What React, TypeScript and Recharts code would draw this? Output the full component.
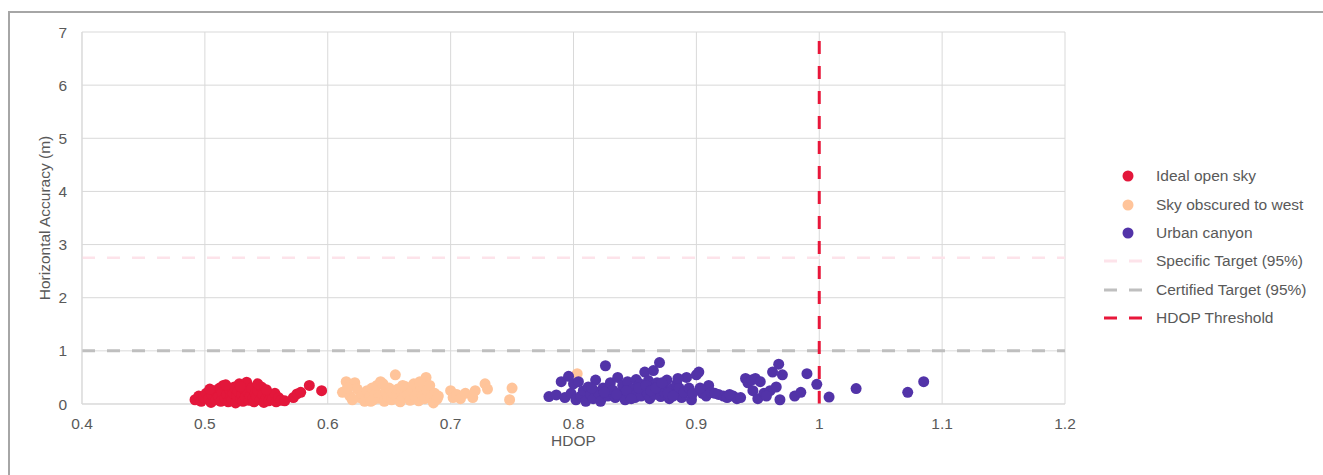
import React from 'react';
import {
  ScatterChart,
  Scatter,
  XAxis,
  YAxis,
  ZAxis,
  CartesianGrid,
  ReferenceLine,
} from 'recharts';

// [hdop, horizontal accuracy (m)]
const idealOpenSky: [number, number][] = [
  [0.492, 0.08], [0.495, 0.15], [0.497, 0.05], [0.499, 0.12], [0.501, 0.2], [0.503, 0.1],
  [0.505, 0.03], [0.506, 0.17], [0.508, 0.25], [0.509, 0.08], [0.511, 0.14], [0.512, 0.3],
  [0.513, 0.05], [0.514, 0.22], [0.515, 0.35], [0.516, 0.11], [0.518, 0.18], [0.519, 0.04],
  [0.52, 0.27], [0.521, 0.13], [0.522, 0.08], [0.523, 0.2], [0.524, 0.32], [0.525, 0.02],
  [0.526, 0.15], [0.527, 0.24], [0.528, 0.38], [0.529, 0.09], [0.53, 0.18], [0.531, 0.05],
  [0.532, 0.28], [0.533, 0.13], [0.534, 0.41], [0.535, 0.22], [0.536, 0.07], [0.537, 0.16],
  [0.538, 0.3], [0.539, 0.1], [0.54, 0.04], [0.541, 0.2], [0.542, 0.14], [0.543, 0.25],
  [0.545, 0.08], [0.546, 0.32], [0.547, 0.17], [0.548, 0.03], [0.55, 0.12], [0.551, 0.22],
  [0.552, 0.06], [0.554, 0.15], [0.555, 0.09], [0.557, 0.2], [0.558, 0.04], [0.56, 0.12],
  [0.562, 0.07], [0.565, 0.06], [0.572, 0.12], [0.575, 0.19], [0.578, 0.22], [0.585, 0.35],
  [0.595, 0.25], [0.504, 0.28], [0.517, 0.36], [0.529, 0.33], [0.55, 0.27], [0.543, 0.38],
];

const skyObscuredWest: [number, number][] = [
  [0.612, 0.22], [0.615, 0.42], [0.618, 0.15], [0.62, 0.08], [0.622, 0.4], [0.624, 0.28],
  [0.626, 0.12], [0.628, 0.18], [0.63, 0.05], [0.632, 0.25], [0.634, 0.14], [0.636, 0.3],
  [0.637, 0.08], [0.639, 0.2], [0.64, 0.35], [0.641, 0.11], [0.643, 0.42], [0.644, 0.17],
  [0.646, 0.05], [0.647, 0.24], [0.649, 0.13], [0.65, 0.3], [0.652, 0.08], [0.653, 0.2],
  [0.655, 0.55], [0.656, 0.15], [0.657, 0.28], [0.659, 0.04], [0.66, 0.22], [0.662, 0.12],
  [0.663, 0.33], [0.665, 0.18], [0.667, 0.07], [0.668, 0.25], [0.67, 0.38], [0.671, 0.14],
  [0.673, 0.21], [0.674, 0.06], [0.676, 0.3], [0.677, 0.16], [0.679, 0.1], [0.68, 0.5],
  [0.681, 0.26], [0.683, 0.35], [0.684, 0.12], [0.686, 0.02], [0.687, 0.2], [0.689, 0.09],
  [0.69, 0.15], [0.7, 0.25], [0.702, 0.12], [0.705, 0.18], [0.708, 0.1], [0.712, 0.2],
  [0.718, 0.12], [0.72, 0.25], [0.728, 0.38], [0.73, 0.28], [0.748, 0.08], [0.75, 0.3],
  [0.803, 0.57], [0.616, 0.3], [0.645, 0.38], [0.661, 0.35], [0.675, 0.42], [0.635, 0.05],
];

const urbanCanyon: [number, number][] = [
  [0.78, 0.14], [0.786, 0.17], [0.79, 0.42], [0.793, 0.12], [0.796, 0.52], [0.798, 0.2],
  [0.8, 0.38], [0.802, 0.08], [0.804, 0.42], [0.806, 0.15], [0.808, 0.25], [0.81, 0.05],
  [0.812, 0.32], [0.814, 0.18], [0.816, 0.1], [0.818, 0.45], [0.82, 0.22], [0.822, 0.05],
  [0.824, 0.3], [0.826, 0.72], [0.828, 0.15], [0.83, 0.4], [0.832, 0.26], [0.834, 0.12],
  [0.836, 0.5], [0.838, 0.2], [0.84, 0.35], [0.842, 0.08], [0.844, 0.42], [0.846, 0.18],
  [0.848, 0.28], [0.85, 0.12], [0.851, 0.46], [0.852, 0.22], [0.854, 0.38], [0.855, 0.15],
  [0.857, 0.3], [0.858, 0.6], [0.86, 0.2], [0.861, 0.44], [0.862, 0.1], [0.864, 0.34],
  [0.865, 0.63], [0.866, 0.18], [0.868, 0.4], [0.869, 0.26], [0.87, 0.78], [0.871, 0.14],
  [0.873, 0.32], [0.874, 0.22], [0.876, 0.45], [0.878, 0.1], [0.88, 0.28], [0.882, 0.18],
  [0.884, 0.38], [0.886, 0.3], [0.888, 0.12], [0.89, 0.22], [0.892, 0.5], [0.894, 0.3],
  [0.896, 0.08], [0.9, 0.55], [0.902, 0.6], [0.905, 0.2], [0.908, 0.15], [0.91, 0.35],
  [0.912, 0.22], [0.918, 0.18], [0.922, 0.15], [0.925, 0.12], [0.93, 0.15], [0.933, 0.1],
  [0.936, 0.12], [0.94, 0.48], [0.942, 0.4], [0.945, 0.45], [0.946, 0.25], [0.948, 0.48],
  [0.95, 0.1], [0.955, 0.2], [0.96, 0.25], [0.962, 0.6], [0.965, 0.32], [0.967, 0.75],
  [0.968, 0.08], [0.97, 0.55], [0.98, 0.15], [0.985, 0.22], [0.99, 0.57], [0.998, 0.37],
  [1.008, 0.13], [1.03, 0.29], [1.072, 0.22], [1.085, 0.42],
  [0.843, 0.25], [0.847, 0.1], [0.853, 0.3], [0.859, 0.35], [0.863, 0.25], [0.867, 0.3],
  [0.872, 0.4], [0.877, 0.2], [0.881, 0.15], [0.815, 0.3], [0.825, 0.22], [0.835, 0.18],
  [0.885, 0.48], [0.897, 0.2], [0.903, 0.3], [0.915, 0.2], [0.927, 0.18], [0.952, 0.42],
  [0.957, 0.15],
];

const xTicks = [0.4, 0.5, 0.6, 0.7, 0.8, 0.9, 1, 1.1, 1.2];
const yTicks = [0, 1, 2, 3, 4, 5, 6, 7];

const specificTarget = 2.75;
const certifiedTarget = 1;
const hdopThreshold = 1;

const toPoints = (rows: [number, number][]) => rows.map(([x, y]) => ({ x, y }));

const FONT = '"Liberation Sans", Arial, sans-serif';
const TEXT = '#595959';
const GRID = '#d9d9d9';
const DASH = '13 12';
const FS = 15.5;

const COLORS = {
  ideal: '#e3173b',
  west: '#ffc49a',
  urban: '#5233a8',
  specific: '#fde3ea',
  certified: '#bfbfbf',
  threshold: '#e8173a',
};

const dot = (color: string) => (props: any) =>
  <circle cx={props.cx} cy={props.cy} r={5.5} fill={color} />;

const legendItems = [
  { label: 'Ideal open sky', color: COLORS.ideal, kind: 'dot' },
  { label: 'Sky obscured to west', color: COLORS.west, kind: 'dot' },
  { label: 'Urban canyon', color: COLORS.urban, kind: 'dot' },
  { label: 'Specific Target (95%)', color: COLORS.specific, kind: 'line' },
  { label: 'Certified Target (95%)', color: COLORS.certified, kind: 'line' },
  { label: 'HDOP Threshold', color: COLORS.threshold, kind: 'line' },
];

export default function App() {
  return (
    <div
      style={{
        position: 'absolute',
        left: 0,
        top: 0,
        width: 1323,
        height: 475,
        overflow: 'hidden',
        background: '#fff',
        fontFamily: FONT,
      }}
    >
      <div
        style={{
          position: 'absolute',
          left: 8,
          top: 11,
          width: 1400,
          height: 500,
          borderTop: '2px solid #a6a6a6',
          borderLeft: '2px solid #a6a6a6',
        }}
      />
      <div style={{ position: 'absolute', left: 0, top: 0 }}>
        <ScatterChart
          width={1323}
          height={475}
          margin={{ top: 32, right: 258, bottom: 21, left: 22 }}
        >
          <CartesianGrid stroke={GRID} />
          <XAxis
            type="number"
            dataKey="x"
            domain={[0.4, 1.2]}
            ticks={xTicks}
            interval={0}
            height={50}
            tickLine={false}
            tickMargin={8}
            axisLine={{ stroke: GRID }}
            tick={{ fill: TEXT, fontSize: FS, fontFamily: FONT }}
            label={{
              value: 'HDOP',
              position: 'center',
              dy: 11,
              style: { fill: TEXT, fontSize: FS, fontFamily: FONT },
            }}
          />
          <YAxis
            type="number"
            dataKey="y"
            domain={[0, 7]}
            ticks={yTicks}
            interval={0}
            width={60}
            tickLine={false}
            tickMargin={9}
            axisLine={{ stroke: GRID }}
            tick={{ fill: TEXT, fontSize: FS, fontFamily: FONT }}
            label={{
              value: 'Horizontal Accuracy (m)',
              angle: -90,
              position: 'center',
              dx: -8,
              style: { fill: TEXT, fontSize: FS, fontFamily: FONT, textAnchor: 'middle' },
            }}
          />
          <ZAxis range={[95, 95]} />
          <Scatter
            name="Ideal open sky"
            data={toPoints(idealOpenSky)}
            fill={COLORS.ideal}
            shape={dot(COLORS.ideal)}
            isAnimationActive={false}
          />
          <Scatter
            name="Sky obscured to west"
            data={toPoints(skyObscuredWest)}
            fill={COLORS.west}
            shape={dot(COLORS.west)}
            isAnimationActive={false}
          />
          <Scatter
            name="Urban canyon"
            data={toPoints(urbanCanyon)}
            fill={COLORS.urban}
            shape={dot(COLORS.urban)}
            isAnimationActive={false}
          />
          <ReferenceLine
            y={specificTarget}
            stroke={COLORS.specific}
            strokeWidth={2.5}
            strokeDasharray={DASH}
          />
          <ReferenceLine
            y={certifiedTarget}
            stroke={COLORS.certified}
            strokeWidth={3}
            strokeDasharray={DASH}
          />
          <ReferenceLine
            x={hdopThreshold}
            stroke={COLORS.threshold}
            strokeWidth={3}
            strokeDasharray={DASH}
          />
        </ScatterChart>
      </div>
      <div style={{ position: 'absolute', left: 1102, top: 162 }}>
        {legendItems.map((item) => (
          <div
            key={item.label}
            style={{ display: 'flex', alignItems: 'center', height: 28.4 }}
          >
            <svg width={54} height={14}>
              {item.kind === 'dot' ? (
                <circle cx={26} cy={7} r={5.5} fill={item.color} />
              ) : (
                <line
                  x1={2}
                  y1={7}
                  x2={42}
                  y2={7}
                  stroke={item.color}
                  strokeWidth={3}
                  strokeDasharray={DASH}
                />
              )}
            </svg>
            <span style={{ fontSize: FS, color: TEXT, whiteSpace: 'nowrap' }}>{item.label}</span>
          </div>
        ))}
      </div>
    </div>
  );
}
